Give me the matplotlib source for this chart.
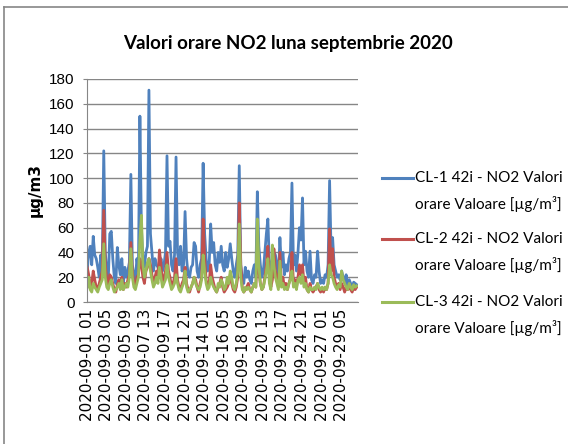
import numpy as np
import matplotlib
matplotlib.use("Agg")
import matplotlib.pyplot as plt
from matplotlib.lines import Line2D

# valori orare NO2, citite din grafic la fiecare 4 ore (6 valori pe zi, 30 zile)
cl1 = [25, 40, 45, 30, 53, 38,
       35, 28, 20, 38, 30, 122,
       40, 25, 18, 55, 57, 35,
       20, 15, 44, 30, 22, 35,
       15, 28, 20, 25, 32, 103,
       30, 22, 18, 35, 25, 150,
       60, 35, 28, 40, 45, 171,
       55, 40, 25, 35, 30, 28,
       20, 35, 25, 30, 40, 118,
       45, 49, 30, 25, 38, 117,
       40, 30, 45, 25, 30, 73,
       35, 22, 20, 28, 30, 48,
       45, 25, 20, 30, 35, 112,
       55, 35, 25, 30, 63, 40,
       48, 30, 25, 40, 32, 45,
       30, 25, 40, 28, 35, 47,
       35, 25, 20, 30, 38, 110,
       30, 18, 15, 28, 20, 25,
       18, 15, 25, 30, 20, 89,
       45, 30, 20, 25, 40, 55,
       67, 30, 25, 35, 40, 38,
       30, 20, 52, 28, 40, 22,
       30, 25, 35, 40, 96, 30,
       38, 25, 40, 60, 50, 84,
       30, 41, 25, 20, 41, 18,
       15, 22, 20, 41, 25, 15,
       18, 15, 22, 20, 30, 98,
       40, 52, 30, 25, 20, 22,
       18, 25, 20, 15, 22, 12,
       18, 15, 12, 16, 15, 14]

cl2 = [28, 22, 12, 15, 25, 18,
       12, 10, 15, 20, 25, 74,
       30, 18, 12, 22, 20, 15,
       10, 8, 14, 18, 12, 20,
       10, 15, 12, 18, 22, 48,
       25, 15, 12, 20, 22, 35,
       30, 20, 15, 25, 28, 35,
       30, 22, 15, 20, 25, 20,
       42, 30, 15, 20, 25, 40,
       25, 20, 12, 15, 20, 35,
       18, 12, 10, 15, 18, 28,
       15, 10, 8, 12, 15, 20,
       18, 12, 8, 15, 20, 67,
       35, 18, 12, 15, 30, 20,
       15, 10, 8, 12, 15, 20,
       12, 8, 10, 12, 15, 22,
       15, 10, 8, 12, 20, 80,
       30, 12, 8, 10, 12, 15,
       10, 8, 12, 15, 12, 40,
       25, 15, 10, 12, 20, 30,
       45, 20, 12, 18, 43, 25,
       20, 12, 40, 15, 20, 12,
       15, 10, 15, 20, 40, 15,
       18, 12, 20, 30, 22, 30,
       15, 20, 10, 8, 15, 10,
       8, 10, 12, 15, 10, 8,
       10, 8, 12, 10, 15, 59,
       25, 43, 20, 15, 12, 15,
       10, 15, 12, 8, 12, 10,
       12, 10, 8, 12, 10, 12]

cl3 = [12, 20, 10, 8, 15, 12,
       10, 8, 12, 15, 18, 47,
       20, 12, 10, 15, 18, 12,
       8, 10, 12, 15, 10, 18,
       10, 12, 15, 12, 20, 43,
       20, 12, 10, 15, 20, 50,
       70, 30, 20, 25, 32, 35,
       25, 18, 12, 15, 20, 15,
       28, 20, 12, 15, 18, 30,
       20, 15, 10, 12, 15, 22,
       15, 10, 8, 12, 15, 25,
       12, 8, 10, 12, 15, 20,
       15, 12, 10, 12, 18, 38,
       25, 15, 10, 12, 20, 15,
       12, 10, 8, 15, 12, 18,
       15, 10, 12, 20, 15, 25,
       20, 12, 10, 15, 25, 63,
       20, 10, 8, 12, 10, 12,
       10, 8, 12, 15, 12, 67,
       30, 15, 10, 12, 18, 25,
       35, 15, 10, 46, 30, 20,
       15, 10, 33, 12, 15, 10,
       12, 10, 15, 18, 25, 12,
       15, 10, 18, 20, 15, 22,
       12, 15, 10, 8, 12, 10,
       10, 12, 10, 15, 12, 10,
       12, 10, 12, 10, 15, 30,
       22, 20, 15, 12, 10, 14,
       12, 25, 18, 15, 12, 10,
       15, 12, 10, 14, 12, 13]

etichete = ["2020-09-01 01", "2020-09-03 05", "2020-09-05 09", "2020-09-07 13",
            "2020-09-09 17", "2020-09-11 21", "2020-09-14 01", "2020-09-16 05",
            "2020-09-18 09", "2020-09-20 13", "2020-09-22 17", "2020-09-24 21",
            "2020-09-27 01", "2020-09-29 05"]

serii = ["CL-1 42i - NO2 Valori\norare Valoare [\u00b5g/m\u00b3]",
         "CL-2 42i - NO2 Valori\norare Valoare [\u00b5g/m\u00b3]",
         "CL-3 42i - NO2 Valori\norare Valoare [\u00b5g/m\u00b3]"]
culori = ["#4F81BD", "#C0504D", "#9BBB59"]

ore = np.arange(0, 720, 4)
font_leg = ["Lato", "DejaVu Sans"]

fig = plt.figure(figsize=(5.68, 4.44), dpi=100)
ax = fig.add_axes([0.1532, 0.3198, 0.4771, 0.5023])

for val, c in zip([cl1, cl2, cl3], culori):
    ax.plot(ore, val, color=c, lw=2.0)

ax.set_xlim(-0.5, 719.5)
ax.set_ylim(0, 180)
ax.set_yticks(np.arange(0, 181, 20))
ax.grid(axis="y", color="#868686", lw=1)
ax.set_axisbelow(True)
for s in ["top", "right"]:
    ax.spines[s].set_visible(False)
for s in ["left", "bottom"]:
    ax.spines[s].set_color("#868686")

ax.set_xticks(np.arange(len(etichete)) * 52)
ax.set_xticklabels(etichete, rotation=90, fontsize=11, family="DejaVu Sans")
ax.tick_params(axis="x", length=0, pad=5)
ax.tick_params(axis="y", length=3, color="#868686", pad=6)
for t in ax.get_yticklabels():
    t.set_family("Liberation Sans")
    t.set_fontsize(11)

ax.set_ylabel("\u00b5g/m3", fontsize=11, fontweight="bold", family="DejaVu Sans")
ax.yaxis.set_label_coords(-0.165, 0.5)

fig.text(0.507, 0.903, "Valori orare NO2 luna septembrie 2020", ha="center",
         va="center", fontsize=13.5, fontweight="bold", family=font_leg)

# legenda
W, H = 568.0, 444.0
for i, (lab, c) in enumerate(zip(serii, culori)):
    y = [178, 239, 302][i]
    fig.add_artist(Line2D([382 / W, 413 / W], [1 - y / H, 1 - y / H],
                          color=c, lw=2.2, transform=fig.transFigure))
    l1, l2 = lab.split("\n")
    fig.text(415 / W, 1 - y / H, l1, ha="left", va="center", fontsize=11, family=font_leg)
    fig.text(415 / W, 1 - (y + 26) / H, l2, ha="left", va="center", fontsize=11, family=font_leg)

# chenar
fig.add_artist(Line2D([4 / W, 4 / W], [1 - 7 / H, 0], color="#868686", lw=1.2,
                      transform=fig.transFigure))
fig.add_artist(Line2D([4 / W, 1], [1 - 7 / H, 1 - 7 / H], color="#868686", lw=1.2,
                      transform=fig.transFigure))

fig.savefig("out.png", dpi=100)
